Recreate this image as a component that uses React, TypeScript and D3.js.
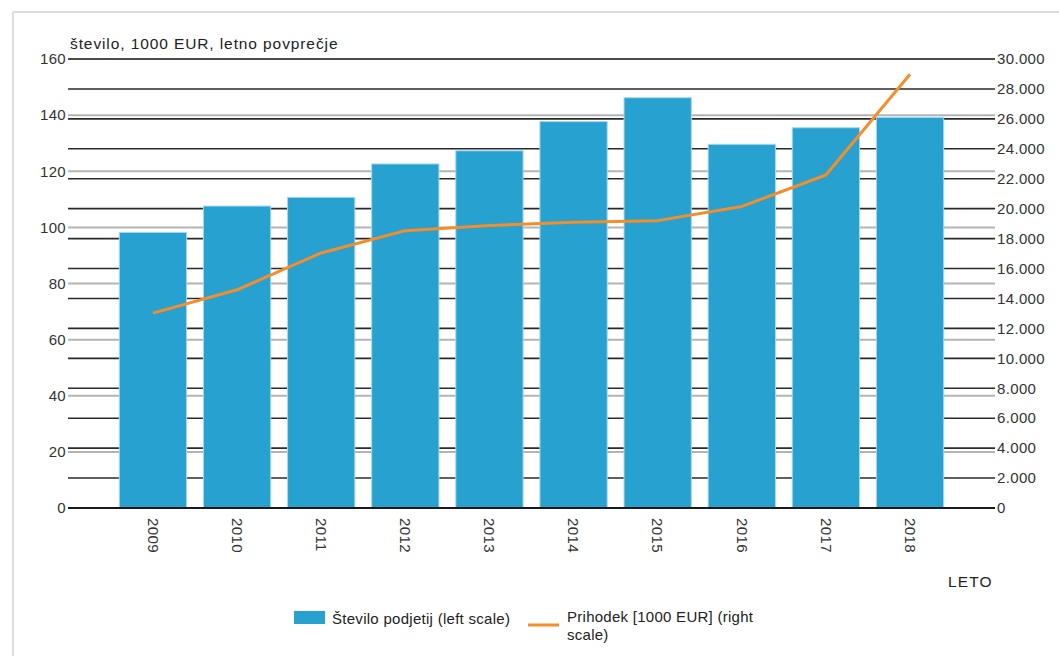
import React from "react";
import * as d3 from "d3";

const years = ["2009", "2010", "2011", "2012", "2013", "2014", "2015", "2016", "2017", "2018"];
const steviloPodjetij = [98.2, 107.6, 110.7, 122.6, 127.3, 137.7, 146.2, 129.6, 135.5, 139.2];
const prihodek = [13020, 14580, 17040, 18530, 18870, 19090, 19200, 20150, 22250, 28980];
const leftTicks = [0, 20, 40, 60, 80, 100, 120, 140, 160];
const rightTicks = d3.range(0, 30001, 2000);

const W = 1059;
const H = 656;
const FONT = "'Liberation Sans', Arial, sans-serif";

export default function App() {
  const x0 = 68;
  const x1 = 995;
  const yBottom = 508;
  const yTop = 59;

  const x = d3.scaleBand<string>().domain(years).range([x0, x1]).paddingInner(0.2).paddingOuter(0.61);
  const yL = d3.scaleLinear().domain([0, 160]).range([yBottom, yTop]);
  const yR = d3.scaleLinear().domain([0, 30000]).range([yBottom, yTop]);

  const fmtR = (v: number) => (v === 0 ? "0" : d3.format(",")(v).replace(/,/g, "."));

  const line = d3
    .line<number>()
    .x((_, i) => (x(years[i]) as number) + x.bandwidth() / 2)
    .y((d) => yR(d));

  return (
    <svg
      width={W}
      height={H}
      style={{ position: "absolute", left: 0, top: 0, background: "#fff" }}
      fontFamily={FONT}
    >
      {/* frame */}
      <line x1={13} x2={W} y1={12} y2={12} stroke="#dcdcdc" strokeWidth={2} />
      <line x1={13} x2={13} y1={12} y2={H} stroke="#dcdcdc" strokeWidth={2} />

      {/* left grid (gray) */}
      {leftTicks.map((t) => (
        <line key={"gl" + t} x1={x0} x2={x1} y1={yL(t)} y2={yL(t)} stroke="#b4b4b4" strokeWidth={2} />
      ))}
      {/* right grid (black) */}
      {rightTicks.map((t) => (
        <line key={"gr" + t} x1={x0} x2={x1} y1={yR(t)} y2={yR(t)} stroke="#2a2a2a" strokeWidth={1.6} />
      ))}

      {/* bars */}
      {years.map((yr, i) => (
        <rect
          key={yr}
          x={x(yr)}
          y={yL(steviloPodjetij[i])}
          width={x.bandwidth()}
          height={yBottom - yL(steviloPodjetij[i])}
          fill="#26a1d0"
          stroke="#a8d8ee"
          strokeWidth={1}
        />
      ))}

      {/* baseline */}
      <line x1={x0} x2={x1} y1={yBottom} y2={yBottom} stroke="#1a1a1a" strokeWidth={2} />

      {/* line */}
      <path d={line(prihodek) || ""} fill="none" stroke="#f58d2a" strokeWidth={3} strokeLinejoin="round" />

      {/* left tick labels */}
      {leftTicks.map((t) => (
        <text key={"tl" + t} x={66} y={yL(t)} dy="0.35em" textAnchor="end" fontSize={15} letterSpacing={0.3} fill="#333">
          {t}
        </text>
      ))}
      {/* right tick labels */}
      {rightTicks.map((t) => (
        <text key={"tr" + t} x={997} y={yR(t)} dy="0.35em" textAnchor="start" fontSize={15} letterSpacing={0.35} fill="#333">
          {fmtR(t)}
        </text>
      ))}

      {/* x labels */}
      {years.map((yr) => {
        const cx = (x(yr) as number) + x.bandwidth() / 2;
        return (
          <text
            key={"xl" + yr}
            transform={`translate(${cx},518) rotate(90)`}
            dy="0.35em"
            textAnchor="start"
            fontSize={15}
            letterSpacing={0.4}
            fill="#333"
          >
            {yr}
          </text>
        );
      })}

      {/* titles */}
      <text x={70} y={49} fontSize={15.5} letterSpacing={0.9} fill="#222">
        število, 1000 EUR, letno povprečje
      </text>
      <text x={948} y={587} fontSize={15.5} letterSpacing={1.1} fill="#222">
        LETO
      </text>

      {/* legend */}
      <rect x={294} y={611} width={31} height={13} fill="#26a1d0" />
      <text x={332} y={624} fontSize={15} letterSpacing={0.28} fill="#222">
        Število podjetij (left scale)
      </text>
      <line x1={528} x2={559} y1={625} y2={625} stroke="#f58d2a" strokeWidth={3} />
      <text x={567} y={622} fontSize={15} letterSpacing={0.27} fill="#222">
        Prihodek [1000 EUR] (right
      </text>
      <text x={567} y={640} fontSize={15} letterSpacing={0.27} fill="#222">
        scale)
      </text>
    </svg>
  );
}
